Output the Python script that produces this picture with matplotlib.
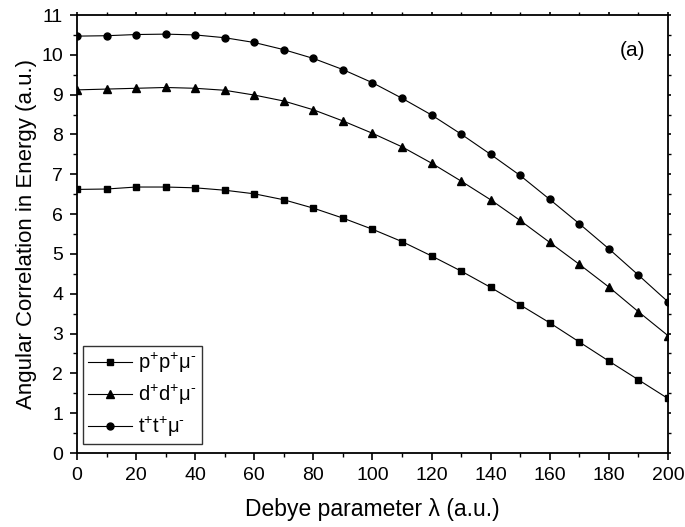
import matplotlib
matplotlib.use("Agg")
import matplotlib.pyplot as plt
from matplotlib.ticker import MultipleLocator

plt.rcParams["font.family"] = ["Liberation Sans", "DejaVu Sans"]
plt.rcParams["mathtext.fontset"] = "custom"
plt.rcParams["mathtext.rm"] = "Liberation Sans"
plt.rcParams["mathtext.it"] = "Liberation Sans"

debye = list(range(0, 201, 10))
pp_mu = [6.62, 6.63, 6.68, 6.68, 6.66, 6.60, 6.51, 6.36, 6.15, 5.90, 5.62,
         5.31, 4.95, 4.57, 4.16, 3.72, 3.27, 2.79, 2.31, 1.84, 1.37]
dd_mu = [9.12, 9.14, 9.16, 9.18, 9.16, 9.11, 8.99, 8.84, 8.62, 8.34, 8.03,
         7.69, 7.28, 6.83, 6.36, 5.84, 5.29, 4.74, 4.17, 3.55, 2.95]
tt_mu = [10.47, 10.48, 10.51, 10.52, 10.50, 10.43, 10.31, 10.13, 9.91, 9.63, 9.30,
         8.91, 8.49, 8.01, 7.50, 6.97, 6.37, 5.76, 5.13, 4.47, 3.80]
labels = ["p$^{+}$p$^{+}$μ$^{\u2010}$", "d$^{+}$d$^{+}$μ$^{\u2010}$", "t$^{+}$t$^{+}$μ$^{\u2010}$"]

fig = plt.figure(figsize=(6.85, 5.27), dpi=100)
ax = fig.add_axes([0.1124, 0.1404, 0.8626, 0.8311])

ax.plot(debye, pp_mu, "k-", marker="s", markersize=5, lw=0.8, label=labels[0])
ax.plot(debye, dd_mu, "k-", marker="^", markersize=5.5, lw=0.8, label=labels[1])
ax.plot(debye, tt_mu, "k-", marker="o", markersize=5, lw=0.8, label=labels[2])

ax.set_xlim(0, 200)
ax.set_ylim(0, 11)
ax.xaxis.set_major_locator(MultipleLocator(20))
ax.xaxis.set_minor_locator(MultipleLocator(10))
ax.yaxis.set_major_locator(MultipleLocator(1))
ax.yaxis.set_minor_locator(MultipleLocator(0.5))
ax.tick_params(which="major", direction="out", length=5, width=1.2, labelsize=14, pad=5)
ax.tick_params(which="minor", direction="out", length=3, width=1.0)
ax.tick_params(which="both", top=True, right=True)
for s in ax.spines.values():
    s.set_linewidth(1.3)

# tiny ticks on the top and right axes
for t in ax.xaxis.get_major_ticks() + ax.xaxis.get_minor_ticks():
    t.tick2line.set_markersize(2)
for t in ax.yaxis.get_major_ticks() + ax.yaxis.get_minor_ticks():
    t.tick2line.set_markersize(2)

ax.set_xlabel("Debye parameter λ (a.u.)", fontsize=16.5, labelpad=10)
ax.set_ylabel("Angular Correlation in Energy (a.u.)", fontsize=16, labelpad=3)
ax.text(0.94, 0.92, "(a)", transform=ax.transAxes, fontsize=15, ha="center", va="center")

leg = ax.legend(loc="lower left", bbox_to_anchor=(0.01, 0.02), fontsize=14.5, frameon=True,
                fancybox=False, edgecolor="black", handlelength=2.2, handletextpad=0.3,
                borderpad=0.25, labelspacing=0.4, borderaxespad=0)
leg.get_frame().set_linewidth(1.0)

fig.savefig("out.png", dpi=100)
